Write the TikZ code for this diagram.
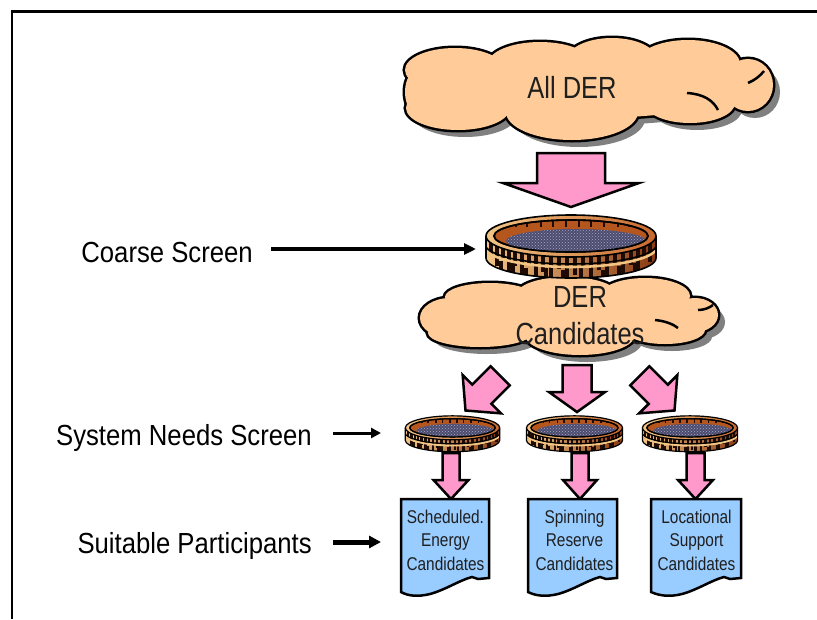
\documentclass[tikz,border=0pt]{standalone}
\usepackage{fontspec}
\setmainfont{Liberation Sans}
\usepackage{graphicx}
\usetikzlibrary{arrows.meta,patterns}
\definecolor{peach}{HTML}{FFCC99}
\definecolor{pinkarrow}{HTML}{FF99CC}
\definecolor{docblue}{HTML}{99CCFF}
\definecolor{shadowgray}{HTML}{808080}
\definecolor{woodlight}{HTML}{F2C585}
\definecolor{woodmid}{HTML}{C8682E}
\definecolor{woodinner}{HTML}{B5561E}
\definecolor{wooddark}{HTML}{8A3A12}
\definecolor{streakcol}{HTML}{1E0C04}
\definecolor{meshdark}{HTML}{4C4C6E}
\definecolor{meshlight}{HTML}{A8A8CC}
\newcommand\ys[2][1.2]{\scalebox{1}[#1]{#2}}
% cloud: list of cx/cy/rx/ry
\newcommand\drawcloud[1]{%
  \foreach \cx/\cy/\rx/\ry in {#1} {\fill[shadowgray] (\cx+7,\cy+7) ellipse [x radius=\rx, y radius=\ry];}
  \foreach \cx/\cy/\rx/\ry in {#1} {\draw[line width=5] (\cx,\cy) ellipse [x radius=\rx, y radius=\ry];}
  \foreach \cx/\cy/\rx/\ry in {#1} {\fill[peach] (\cx,\cy) ellipse [x radius=\rx, y radius=\ry];}
}
% block arrow: tip x, tip y, rotation, head half width, head length, shaft half width, shaft length
\newcommand\blockarr[7]{%
  \begin{scope}[shift={(#1,#2)}, rotate=#3]
    \filldraw[blockarrow] (0,0) -- (-#4,-#5) -- (-#6,-#5) -- (-#6,-#5-#7) -- (#6,-#5-#7) -- (#6,-#5) -- (#4,-#5) -- cycle;
  \end{scope}}
% document: left x, right x
\newcommand\docshape[2]{%
  \filldraw[docbox] (#1,499) -- (#2,499) -- (#2,578) -- (#2-11,579) -- (#2-17,577)
    .. controls (#2-29,580) and (#2-44,590) .. (#2-59,594)
    .. controls (#2-71,597) and (#2-81,596) .. (#1,592) -- cycle;}
% sieve: cx, cy, xscale, yscale, line width
\newcommand\sieve[5]{%
\begin{scope}[shift={(#1,#2)}, xscale=#3, yscale=#4, line width=#5]
  \shade[left color=woodlight, middle color=woodmid, right color=wooddark]
    (-85,-10) -- (-85,12) arc[start angle=180, end angle=0, x radius=85, y radius=20]
    -- (85,-10) arc[start angle=0, end angle=-180, x radius=85, y radius=21] -- cycle;
  \begin{scope}
    \clip (-85,-10) -- (-85,12) arc[start angle=180, end angle=0, x radius=85, y radius=20]
    -- (85,-10) arc[start angle=0, end angle=-180, x radius=85, y radius=21] -- cycle;
    \foreach \sx/\slen in {-80/12,-74/20,-68/9,-62/24,-56/14,-49/26,-42/10,-35/22,-28/16,-20/26,-12/12,-4/24,4/18,12/10,20/26,28/14,36/22,44/9,52/20,60/14,67/24,73/10,79/18} {
      \pgfmathsetmacro\yt{-10+21*sqrt(1-(\sx/85)^2)}
      \draw[streakcol, line width={2*#5}] (\sx,\yt) -- ++(0,\slen);
    }
    \foreach \sx/\slen in {-70/8,-58/10,-45/7,-25/9,-8/8,10/10,32/7,48/9,64/8} {
      \pgfmathsetmacro\yb{12+20*sqrt(1-(\sx/85)^2)}
      \draw[streakcol, line width={2*#5}] (\sx,\yb) -- ++(0,-\slen);
    }
    \draw[woodlight, line width={1.6*#5}] (-86,1) arc[start angle=180, end angle=0, x radius=86, y radius=20];
    \draw (-86,-2) arc[start angle=180, end angle=0, x radius=86, y radius=20];
  \end{scope}
  \draw (-85,-10) -- (-85,12) arc[start angle=180, end angle=0, x radius=85, y radius=20] -- (85,-10);
  \shade[left color=woodlight, right color=woodmid] (0,-10) ellipse [x radius=85, y radius=21];
  \draw (0,-10) ellipse [x radius=85, y radius=21];
  \filldraw[fill=woodinner] (0,-10) ellipse [x radius=77, y radius=16];
  \begin{scope}
    \clip (0,-10) ellipse [x radius=77, y radius=16];
    \fill[meshdark] (5,-5) ellipse [x radius=70, y radius=12];
    \fill[pattern=crosshatch dots, pattern color=meshlight] (5,-5) ellipse [x radius=70, y radius=12];
    \foreach \sx in {-55,-44,-30,-18,-5,8,20,33,47,58} {
      \draw[streakcol, line width={1.4*#5}] (\sx,-27) -- ++(0,8);
    }
  \end{scope}
  \draw (0,-10) ellipse [x radius=77, y radius=16];
\end{scope}}
\begin{document}
\begin{tikzpicture}[x=1pt, y=-1pt,
  lbl/.style={inner sep=0pt, font=\fontsize{25.7}{30}\selectfont},
  cloudtxt/.style={inner sep=0pt, font=\fontsize{25.5}{30}\selectfont, text=black!88},
  doctxt/.style={inner sep=0pt, align=center, font=\fontsize{15.4}{23.5}\selectfont, text=black!88},
  blockarrow/.style={fill=pinkarrow, draw=black, line width=2.5, line join=miter},
  docbox/.style={fill=docblue, draw=black, line width=2.5, line join=miter},
  pointer/.style={draw=black}]
\useasboundingbox (0,0) rectangle (817,619);
\fill[white] (0,0) rectangle (817,619);
% frame
\draw[line width=2.4] (817,11.5) -- (12,11.5) -- (12,619);
% top cloud
\drawcloud{455/70/50/22, 540/64/52/22, 612/60/45/22, 688/64/52/24, 748/85/25/26, 690/103/45/20, 572/112/66/28, 458/108/52/22, 430/92/25/30, 590/88/150/30}
\draw[line width=2.5] (687,93) .. controls (703,94) and (713,100) .. (718,110);
\draw[line width=2.5] (748,83) .. controls (755,80) and (760,76) .. (764,71);
\node[cloudtxt, anchor=base] (allder) at (572,98) {\ys{All DER}};
% big arrow
\blockarr{571}{207}{0}{68}{24}{34}{30}
% candidates cloud
\drawcloud{450/318/30/20, 490/297/45/14, 567/294/50/17, 645/296/45/18, 695/315/23/17, 665/330/40/14, 580/335/55/20, 480/333/52/14, 570/316/120/22}
\draw[line width=2.5] (655,320) .. controls (665,321) and (673,324) .. (678,328);
\draw[line width=2.5] (698,310) .. controls (704,310) and (709,308) .. (713,305);
% big sieve
\sieve{571}{246}{1}{1}{1.6}
\coordinate (bigsieve) at (476,249);
\node[cloudtxt, anchor=base] (der) at (580,307) {\ys{DER}};
\node[cloudtxt, anchor=base] (cand) at (580,344) {\ys{Candidates}};
% three arrows
\blockarr{465.5}{410.5}{-45}{27}{23}{13.5}{26}
\blockarr{577}{412}{0}{28}{20}{14.5}{27}
\blockarr{674.5}{410.5}{45}{27}{23}{13.5}{26}
% small sieves
\sieve{452.5}{433.5}{0.555}{0.57}{1.2}
\sieve{574.5}{433.5}{0.565}{0.57}{1.2}
\sieve{690}{433.5}{0.56}{0.57}{1.2}
\coordinate (leftsieve) at (381,433);
% small down arrows
\blockarr{451}{499}{0}{17.5}{19}{8.5}{27}
\blockarr{580}{499}{0}{17}{19}{8.5}{27}
\blockarr{695.5}{499}{0}{17.5}{19}{9}{27}
% documents
\docshape{401}{489}
\docshape{528}{617}
\docshape{651}{741}
\coordinate (leftdoc) at (381,542);
\node[doctxt, anchor=north] (doc1) at (445.5,509.5) {\ys{Scheduled.}\\\ys{Energy}\\\ys{Candidates}};
\node[doctxt, anchor=north] (doc2) at (574.5,509.5) {\ys{Spinning}\\\ys{Reserve}\\\ys{Candidates}};
\node[doctxt, anchor=north] (doc3) at (696.5,509.5) {\ys{Locational}\\\ys{Support}\\\ys{Candidates}};
% labels
\node[lbl, anchor=base east] (coarse) at (253,262) {\ys[1.13]{Coarse Screen}};
\node[lbl, anchor=base east] (needs) at (312,445) {\ys[1.13]{System Needs Screen}};
\node[lbl, anchor=base east] (suit) at (312,553) {\ys[1.13]{Suitable Participants}};
\draw[pointer, line width=4, shorten <=18pt, -{Triangle[length=12pt,width=11pt]}] (coarse.east |- bigsieve) -- (bigsieve);
\draw[pointer, line width=3, shorten <=21pt, -{Triangle[length=10pt,width=10pt]}] (needs.east |- leftsieve) -- (leftsieve);
\draw[pointer, line width=5, shorten <=21pt, -{Triangle[length=12pt,width=12pt]}] (suit.east |- leftdoc) -- (leftdoc);
\end{tikzpicture}
\end{document}
